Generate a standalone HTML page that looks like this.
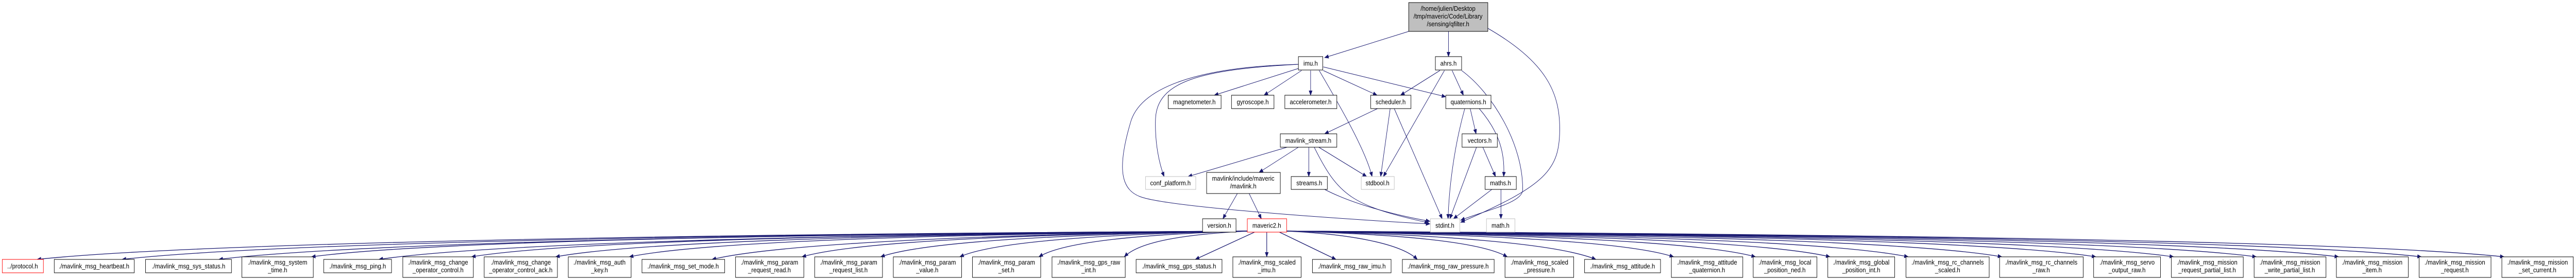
<!DOCTYPE html>
<html><head><meta charset="utf-8"><style>
html,body{margin:0;padding:0;background:#fff;overflow:hidden;width:100vw;height:100vh;}
svg{display:block;width:100vw;height:100vh;}
text{font-family:"Liberation Sans",Arial,sans-serif;font-size:13px;fill:#000;text-anchor:middle;}
.e{fill:none;stroke:#191970;stroke-width:1;}
.b{fill:none;stroke:#191970;stroke-width:1.3;}
rect{fill:#fff;stroke:#000;stroke-width:1;}
.g{stroke:#bfbfbf;}
.r{stroke:#ff0000;}
</style></head><body>
<svg viewBox="0 0 5698 544" preserveAspectRatio="none" xmlns="http://www.w3.org/2000/svg">
<defs><marker id="a" markerWidth="10" markerHeight="8" refX="9" refY="4" orient="auto" markerUnits="userSpaceOnUse"><path d="M0,0 L10,4 L0,8z" fill="#191970"/></marker></defs>

<g marker-end="url(#a)">
<path class="e" d="M3116,61 L2930,112"/>
<path class="e" d="M3204,61 L3204,110"/>
<path class="e" d="M3291,55 C3420,120 3450,180 3450,250 C3450,330 3420,360 3231,432"/>
<path class="e" d="M2872,133 L2686,185"/>
<path class="e" d="M2879,137 L2796,185"/>
<path class="e" d="M2899,137 L2899,185"/>
<path class="e" d="M2927,137 L3046,185"/>
<path class="e" d="M2927,130 L3198,188"/>
<path class="e" d="M2918,137 C2960,200 3020,290 3035,343"/>
<path class="e" d="M2872,125 C2650,135 2560,160 2556,230 C2554,280 2565,320 2575,343"/>
<path class="e" d="M2872,125 C2650,130 2520,170 2500,240 C2470,330 2480,370 2525,383 C2600,405 3050,430 3163,435"/>
<path class="e" d="M3185,137 L3098,185"/>
<path class="e" d="M3195,137 L3060,343"/>
<path class="e" d="M3212,137 L3237,185"/>
<path class="e" d="M3233,137 C3300,180 3370,280 3368,370 C3366,395 3280,410 3231,428"/>
<path class="e" d="M3047,211 L2930,260"/>
<path class="e" d="M3075,211 L3054,343"/>
<path class="e" d="M3084,211 L3190,425"/>
<path class="e" d="M3252,211 L3265,260"/>
<path class="e" d="M3272,211 C3310,250 3330,290 3326,343"/>
<path class="e" d="M3240,211 C3215,290 3205,370 3203,425"/>
<path class="e" d="M3280,286 L3308,343"/>
<path class="e" d="M3266,286 L3207,425"/>
<path class="e" d="M2847,286 L2628,343"/>
<path class="e" d="M2872,286 L2785,335"/>
<path class="e" d="M2895,286 L2895,343"/>
<path class="e" d="M2917,286 L3023,343"/>
<path class="e" d="M2907,286 C2960,380 2990,400 3160,433"/>
<path class="e" d="M2737,376 L2705,425"/>
<path class="e" d="M2763,376 L2790,425"/>
<path class="e" d="M2930,368 C3000,400 3100,420 3163,430"/>
<path class="e" d="M3300,368 L3215,425"/>
<path class="e" d="M3320,368 L3320,425"/>
</g>

<g marker-end="url(#a)">
<path class="b" d="M2759,449 C1421,455 403,474 82,504"/>
<path class="b" d="M2759,449 C1515,455 569,474 270,504"/>
<path class="b" d="M2759,449 C1622,455 757,474 484,504"/>
<path class="b" d="M2759,449 C1724,455 937,469 689,499"/>
<path class="b" d="M2759,449 C1799,455 1069,474 838,504"/>
<path class="b" d="M2759,449 C1901,455 1249,469 1043,499"/>
<path class="b" d="M2759,449 C1994,455 1413,469 1229,499"/>
<path class="b" d="M2759,449 C2076,455 1556,469 1392,499"/>
<path class="b" d="M2759,449 C2167,455 1717,474 1575,504"/>
<path class="b" d="M2759,449 C2267,455 1892,469 1774,499"/>
<path class="b" d="M2759,449 C2354,455 2045,469 1948,499"/>
<path class="b" d="M2759,449 C2441,455 2199,469 2123,499"/>
<path class="b" d="M2759,449 C2529,455 2353,469 2298,499"/>
<path class="b" d="M2759,449 C2623,455 2520,469 2487,499"/>
<path class="b" d="M2775,451 L2644,504"/>
<path class="b" d="M2802,451 L2802,499"/>
<path class="b" d="M2830,451 L2955,504"/>
<path class="b" d="M2846,449 C2991,455 3100,474 3135,504"/>
<path class="b" d="M2846,449 C3090,455 3275,469 3334,499"/>
<path class="b" d="M2846,449 C3188,455 3448,474 3530,504"/>
<path class="b" d="M2846,449 C3274,455 3599,469 3702,499"/>
<path class="b" d="M2846,449 C3365,455 3759,469 3883,499"/>
<path class="b" d="M2846,449 C3447,455 3904,469 4048,499"/>
<path class="b" d="M2846,449 C3534,455 4056,469 4221,499"/>
<path class="b" d="M2846,449 C3637,455 4238,469 4428,499"/>
<path class="b" d="M2846,449 C3741,455 4421,469 4636,499"/>
<path class="b" d="M2846,449 C3827,455 4573,469 4808,499"/>
<path class="b" d="M2846,449 C3919,455 4734,469 4991,499"/>
<path class="b" d="M2846,449 C4010,455 4894,469 5173,499"/>
<path class="b" d="M2846,449 C4101,455 5055,469 5356,499"/>
<path class="b" d="M2846,449 C4193,455 5216,469 5539,499"/>
</g>

<rect x="3116" y="5" width="175" height="56" style="fill:#bfbfbf"/>
<text x="3203" y="21">/home/julien/Desktop</text>
<text x="3203" y="36">/tmp/maveric/Code/Library</text>
<text x="3203" y="51">/sensing/qfilter.h</text>

<rect x="2872" y="110" width="54" height="26"/><text x="2899" y="127.5">imu.h</text>
<rect x="3175" y="110" width="58" height="26"/><text x="3204" y="127.5">ahrs.h</text>
<rect x="2584" y="185" width="117" height="26"/><text x="2642" y="202.5">magnetometer.h</text>
<rect x="2724" y="185" width="94" height="26"/><text x="2771" y="202.5">gyroscope.h</text>
<rect x="2842" y="185" width="115" height="26"/><text x="2899" y="202.5">accelerometer.h</text>
<rect x="3032" y="185" width="89" height="26"/><text x="3076" y="202.5">scheduler.h</text>
<rect x="3198" y="185" width="100" height="26"/><text x="3248" y="202.5">quaternions.h</text>
<rect x="2832" y="260" width="125" height="26"/><text x="2894" y="277.5">mavlink_stream.h</text>
<rect x="3234" y="260" width="78" height="26"/><text x="3273" y="277.5">vectors.h</text>
<rect class="g" x="2534" y="343" width="111" height="25"/><text x="2589" y="360">conf_platform.h</text>
<rect x="2669" y="335" width="163" height="41"/><text x="2750" y="351">mavlink/include/maveric</text><text x="2750" y="366">/mavlink.h</text>
<rect x="2856" y="343" width="80" height="25"/><text x="2896" y="360">streams.h</text>
<rect class="g" x="3011" y="343" width="73" height="25"/><text x="3047" y="360">stdbool.h</text>
<rect x="3285" y="343" width="69" height="25"/><text x="3319" y="360">maths.h</text>
<rect x="2660" y="425" width="74" height="26"/><text x="2697" y="442.5">version.h</text>
<rect class="r" x="2759" y="425" width="87" height="26"/><text x="2802" y="442.5">maveric2.h</text>
<rect class="g" x="3164" y="425" width="65" height="26"/><text x="3196" y="442.5">stdint.h</text>
<rect class="g" x="3288" y="425" width="63" height="26"/><text x="3319" y="442.5">math.h</text>

<rect class="r" x="5" y="504" width="91" height="26"/><text x="50" y="521.5">../protocol.h</text>
<rect x="120" y="504" width="177" height="26"/><text x="208" y="521.5">./mavlink_msg_heartbeat.h</text>
<rect x="322" y="504" width="190" height="26"/><text x="417" y="521.5">./mavlink_msg_sys_status.h</text>
<rect x="535" y="499" width="158" height="40"/><text x="614" y="514">./mavlink_msg_system</text><text x="614" y="529">_time.h</text>
<rect x="716" y="504" width="150" height="26"/><text x="791" y="521.5">./mavlink_msg_ping.h</text>
<rect x="891" y="499" width="156" height="40"/><text x="969" y="514">./mavlink_msg_change</text><text x="969" y="529">_operator_control.h</text>
<rect x="1071" y="499" width="162" height="40"/><text x="1152" y="514">./mavlink_msg_change</text><text x="1152" y="529">_operator_control_ack.h</text>
<rect x="1257" y="499" width="139" height="40"/><text x="1326" y="514">./mavlink_msg_auth</text><text x="1326" y="529">_key.h</text>
<rect x="1420" y="504" width="183" height="26"/><text x="1511" y="521.5">./mavlink_msg_set_mode.h</text>
<rect x="1627" y="499" width="151" height="40"/><text x="1702" y="514">./mavlink_msg_param</text><text x="1702" y="529">_request_read.h</text>
<rect x="1802" y="499" width="150" height="40"/><text x="1877" y="514">./mavlink_msg_param</text><text x="1877" y="529">_request_list.h</text>
<rect x="1976" y="499" width="151" height="40"/><text x="2051" y="514">./mavlink_msg_param</text><text x="2051" y="529">_value.h</text>
<rect x="2151" y="499" width="151" height="40"/><text x="2226" y="514">./mavlink_msg_param</text><text x="2226" y="529">_set.h</text>
<rect x="2327" y="499" width="162" height="40"/><text x="2408" y="514">./mavlink_msg_gps_raw</text><text x="2408" y="529">_int.h</text>
<rect x="2513" y="504" width="190" height="26"/><text x="2608" y="521.5">./mavlink_msg_gps_status.h</text>
<rect x="2727" y="499" width="151" height="40"/><text x="2802" y="514">./mavlink_msg_scaled</text><text x="2802" y="529">_imu.h</text>
<rect x="2903" y="504" width="174" height="26"/><text x="2990" y="521.5">./mavlink_msg_raw_imu.h</text>
<rect x="3102" y="504" width="203" height="26"/><text x="3203" y="521.5">./mavlink_msg_raw_pressure.h</text>
<rect x="3329" y="499" width="152" height="40"/><text x="3405" y="514">./mavlink_msg_scaled</text><text x="3405" y="529">_pressure.h</text>
<rect x="3505" y="504" width="168" height="26"/><text x="3589" y="521.5">./mavlink_msg_attitude.h</text>
<rect x="3697" y="499" width="158" height="40"/><text x="3776" y="514">./mavlink_msg_attitude</text><text x="3776" y="529">_quaternion.h</text>
<rect x="3878" y="499" width="141" height="40"/><text x="3948" y="514">./mavlink_msg_local</text><text x="3948" y="529">_position_ned.h</text>
<rect x="4043" y="499" width="148" height="40"/><text x="4117" y="514">./mavlink_msg_global</text><text x="4117" y="529">_position_int.h</text>
<rect x="4216" y="499" width="184" height="40"/><text x="4308" y="514">./mavlink_msg_rc_channels</text><text x="4308" y="529">_scaled.h</text>
<rect x="4423" y="499" width="185" height="40"/><text x="4515" y="514">./mavlink_msg_rc_channels</text><text x="4515" y="529">_raw.h</text>
<rect x="4631" y="499" width="148" height="40"/><text x="4705" y="514">./mavlink_msg_servo</text><text x="4705" y="529">_output_raw.h</text>
<rect x="4803" y="499" width="159" height="40"/><text x="4882" y="514">./mavlink_msg_mission</text><text x="4882" y="529">_request_partial_list.h</text>
<rect x="4986" y="499" width="159" height="40"/><text x="5065" y="514">./mavlink_msg_mission</text><text x="5065" y="529">_write_partial_list.h</text>
<rect x="5168" y="499" width="159" height="40"/><text x="5247" y="514">./mavlink_msg_mission</text><text x="5247" y="529">_item.h</text>
<rect x="5351" y="499" width="159" height="40"/><text x="5430" y="514">./mavlink_msg_mission</text><text x="5430" y="529">_request.h</text>
<rect x="5534" y="499" width="158" height="40"/><text x="5613" y="514">./mavlink_msg_mission</text><text x="5613" y="529">_set_current.h</text>
</svg>
</body></html>
